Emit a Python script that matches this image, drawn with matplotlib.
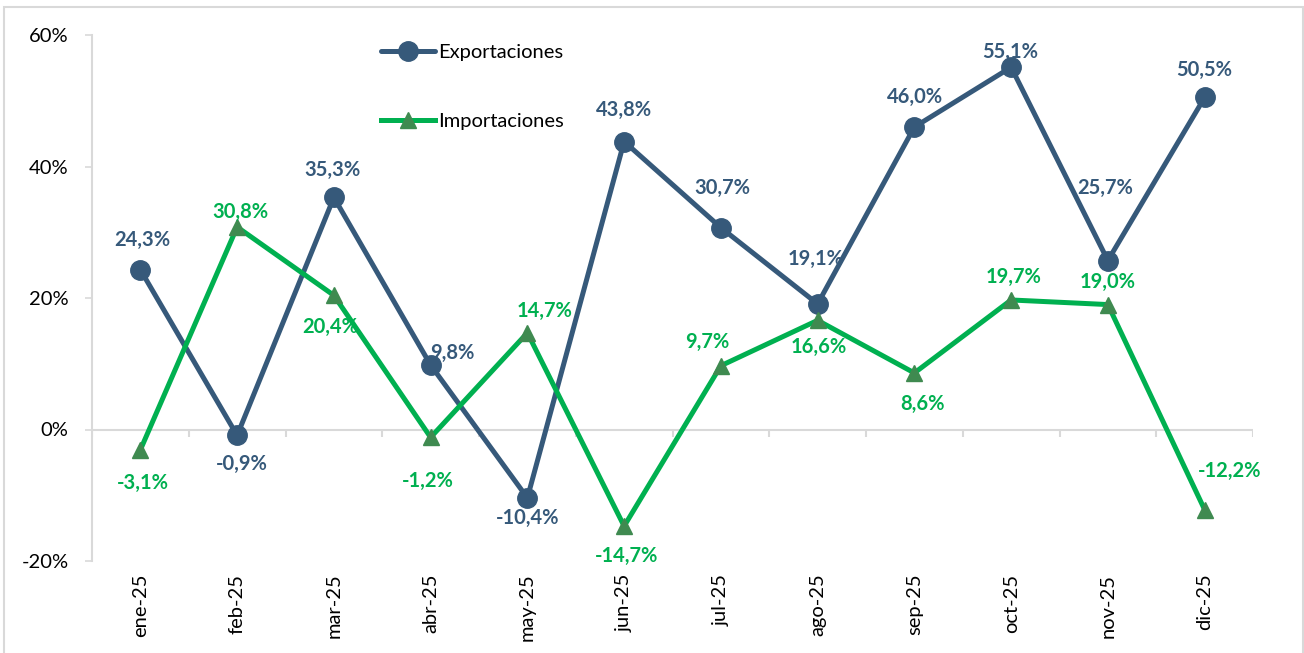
import numpy as np
import matplotlib.pyplot as plt
from matplotlib.patches import Rectangle

# datos
meses = ['ene-25', 'feb-25', 'mar-25', 'abr-25', 'may-25', 'jun-25',
         'jul-25', 'ago-25', 'sep-25', 'oct-25', 'nov-25', 'dic-25']
exportaciones = [24.3, -0.9, 35.3, 9.8, -10.4, 43.8, 30.7, 19.1, 46.0, 55.1, 25.7, 50.5]
importaciones = [-3.1, 30.8, 20.4, -1.2, 14.7, -14.7, 9.7, 16.6, 8.6, 19.7, 19.0, -12.2]
yticks = [-20, 0, 20, 40, 60]

# desplazamiento de las etiquetas (pixeles, y hacia arriba)
off_exp = [(2, 30), (5, -29), (-1, 27), (22, 12), (0, -20), (0, 32),
           (1, 40), (-2, 45), (1, 30), (-1, 15), (-3, 73), (0, 27)]
off_imp = [(2, -33), (3, 15), (-4, -32), (-3, -44), (17, 22), (2, -30),
           (-14, 24), (1, -27), (8, -31), (2, 23), (0, 23), (25, 39)]

c_exp = '#36597A'
c_imp = '#00B050'
c_tri = '#3F8A50'
c_gris = '#D9D9D9'

plt.rcParams['font.family'] = ['Lato', 'DejaVu Sans']

fig = plt.figure(figsize=(13.04, 6.53), dpi=100)
ax = fig.add_axes([92 / 1304, 1 - 561 / 653, (1253 - 92) / 1304, (561 - 35) / 653])

x = np.arange(len(meses))
ax.plot(x, exportaciones, color=c_exp, lw=3.6, marker='o', ms=14,
        solid_capstyle='round', label='Exportaciones', zorder=3)
ax.plot(x, importaciones, color=c_imp, lw=3.6, marker='^', ms=12,
        markerfacecolor=c_tri, markeredgecolor=c_tri, label='Importaciones', zorder=4)

for i in range(len(x)):
    ax.annotate(f'{exportaciones[i]:.1f}%'.replace('.', ','), (x[i], exportaciones[i]),
                xytext=off_exp[i], textcoords='offset pixels', ha='center', va='center',
                fontsize=14.5, fontweight='bold', color=c_exp, zorder=5)
    ax.annotate(f'{importaciones[i]:.1f}%'.replace('.', ','), (x[i], importaciones[i]),
                xytext=off_imp[i], textcoords='offset pixels', ha='center', va='center',
                fontsize=14.5, fontweight='bold', color=c_imp, zorder=5)

ax.set_xlim(-0.5, len(meses) - 0.5)
ax.set_ylim(-20, 60)
ax.set_yticks(yticks)
ax.set_yticklabels([f'{v}%' for v in yticks])
ax.set_xticks(x)
ax.set_xticklabels(meses, rotation=90)
ax.tick_params(axis='x', length=0, pad=9, labelsize=14.5)
ax.tick_params(axis='y', length=5, width=1.2, color=c_gris, pad=12, labelsize=14.5)

for s in ['top', 'right', 'bottom']:
    ax.spines[s].set_visible(False)
ax.spines['left'].set_color(c_gris)
ax.spines['left'].set_linewidth(1.5)

# eje horizontal en 0 con marcas entre categorias
ax.axhline(0, color=c_gris, lw=1.5, zorder=1)
ax.vlines(np.arange(len(meses) + 1) - 0.5, -1.1, 0, color=c_gris, lw=1.5, zorder=1)

ax.legend(loc='upper left', bbox_to_anchor=(371 / 1304, 1 - 34 / 653),
          bbox_transform=fig.transFigure, frameon=False, fontsize=14.5,
          labelspacing=2.55, handlelength=2.7, handletextpad=0.15, borderpad=0)

fig.patches.append(Rectangle((4 / 1304, -0.1), 1299 / 1304, 1.1 - 7 / 653,
                             transform=fig.transFigure, fill=False,
                             edgecolor=c_gris, lw=1.5))

fig.savefig('out.png', dpi=100)
